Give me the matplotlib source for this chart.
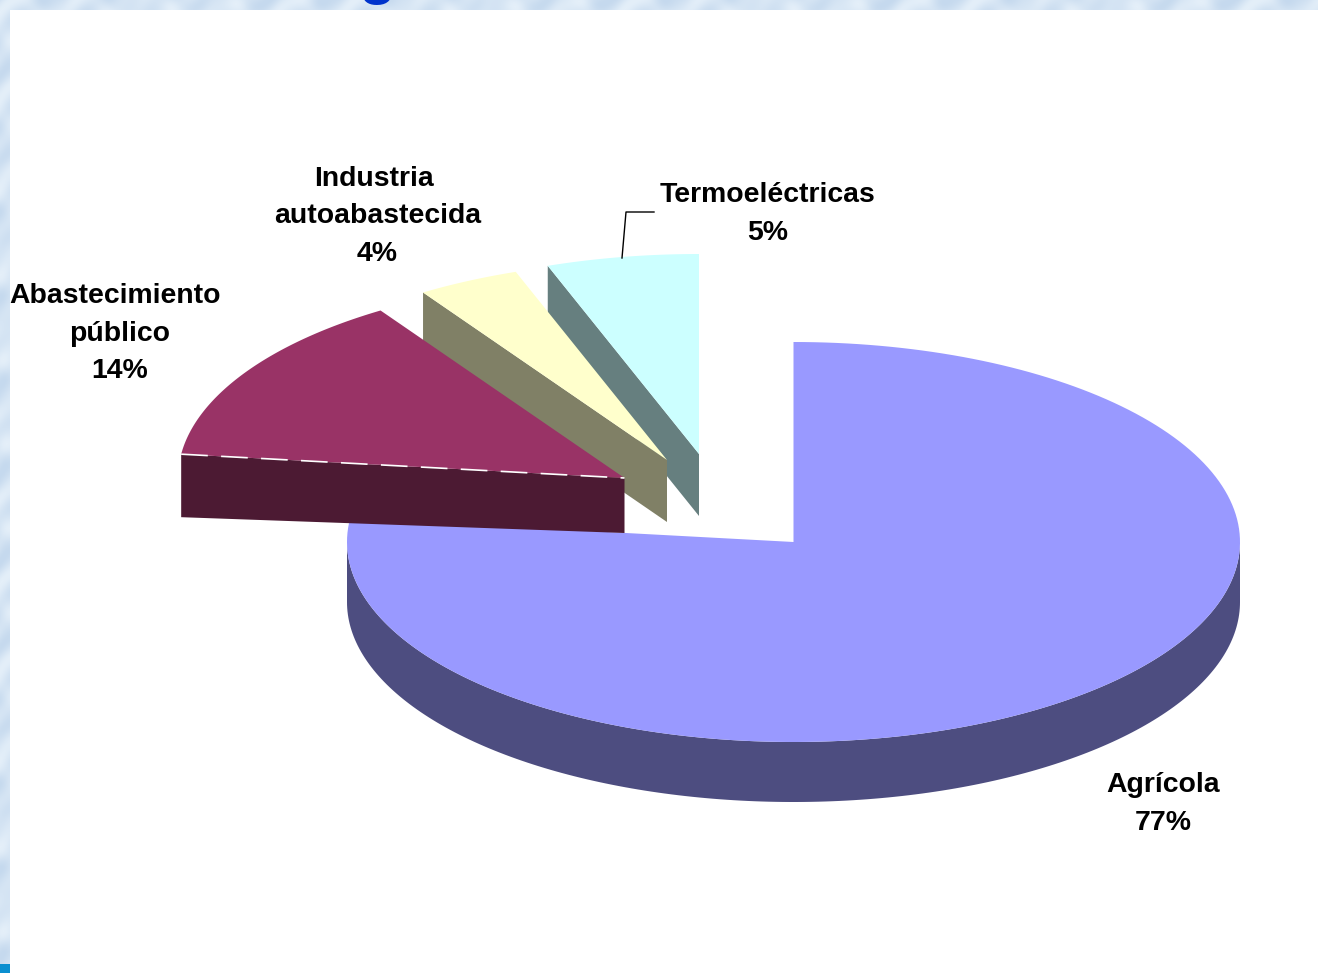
import matplotlib
matplotlib.use("Agg")
import matplotlib.pyplot as plt
import numpy as np

# Datos del grafico
categorias = ["Agrícola", "Abastecimiento público", "Industria autoabastecida", "Termoeléctricas"]
valores = [76.9, 13.9, 3.7, 5.5]

lineas = ["Agrícola", "77%",
          "Abastecimiento", "público", "14%",
          "Industria", "autoabastecida", "4%",
          "Termoeléctricas", "5%"]
lineas_x = [1163, 1163, 115.5, 120, 120, 374, 378, 377, 767, 768]
lineas_y = [785, 823, 296, 334, 371, 179, 216, 254, 195, 233]

colores = ["#9999ff", "#993366", "#ffffcc", "#ccffff"]
colores_lado = ["#4d4d80", "#4c1a33", "#808066", "#667f7f"]

# vertice de cada porcion (en pixeles de la figura) y alto del lado
centros = [(793.5, 542), (624.5, 478), (667, 460), (699, 454)]
alto_borde = [60, 63, 62, 62]
alto_centro = [60, 55, 62, 62]
a, b = 446.5, 200

fig = plt.figure(figsize=(13.18, 9.73), dpi=100)
ax = fig.add_axes([0, 0, 1, 1])
ax.set_xlim(0, 1318)
ax.set_ylim(973, 0)
ax.axis("off")

# fondo moteado de la diapositiva
yy, xx = np.mgrid[0:973, 0:1318]
fondo = 0.5 + 0.25 * np.sin(xx / 9.0 + np.sin(yy / 13.0) * 2) + 0.25 * np.sin(yy / 7.0 + np.sin(xx / 11.0) * 2)
ax.imshow(fondo, extent=(0, 1318, 973, 0), aspect="auto", zorder=0,
          cmap=matplotlib.colors.LinearSegmentedColormap.from_list("f", ["#c5d9ee", "#e4eff9"]))
ax.set_xlim(0, 1318)
ax.set_ylim(973, 0)

# trozo del titulo que queda tapado por el panel blanco
ax.text(377, -8, "g", color="#0033cc", fontsize=44, fontweight="bold", family="Liberation Sans",
        ha="center", va="baseline", zorder=1)
ax.fill_between([10, 1318], 10, 973, color="white", zorder=2, lw=0)
ax.fill_between([0, 10], 964, 973, color="#0a8fd0", zorder=2, lw=0)


def borde(cx, cy, t1, t2):
    t = np.radians(np.linspace(t1, t2, 200))
    return cx + a * np.cos(t), cy - b * np.sin(t)


# angulos: empieza arriba y va en sentido horario
angulos = 90 - np.cumsum([0] + valores) * 360 / sum(valores)
z = 3
for i in [0, 3, 2, 1]:
    cx, cy = centros[i]
    ini, fin = angulos[i], angulos[i + 1]
    if i == 0:
        # pared exterior de la porcion grande
        x, y = borde(cx, cy, -180, 0)
        ax.fill(np.r_[x, x[::-1]], np.r_[y, y[::-1] + alto_borde[i]], color=colores_lado[i], zorder=z, lw=0)
    else:
        # pared radial visible de las porciones separadas
        x0, y0 = borde(cx, cy, ini, ini)
        x0, y0 = x0[0], y0[0]
        ax.fill([x0, cx, cx, x0], [y0, cy, cy + alto_centro[i], y0 + alto_borde[i]],
                color=colores_lado[i], zorder=z, lw=0)
    x, y = borde(cx, cy, ini, fin)
    ax.fill(np.r_[cx, x], np.r_[cy, y], color=colores[i], zorder=z + 0.5, lw=0)
    if i == 1:
        x0, y0 = borde(cx, cy, ini, ini)
        ax.plot([x0[0], cx], [y0[0], cy], color="white", lw=1.2, dashes=(16, 8), zorder=z + 0.6)
    z += 1

# linea guia de Termoelectricas
ax.plot([654, 626, 622], [212, 212, 258], color="black", lw=1, zorder=10)

for txt, px, py in zip(lineas, lineas_x, lineas_y):
    ax.text(px, py, txt, fontsize=20.4, fontweight="bold", family="Liberation Sans", color="black",
            ha="center", va="center", zorder=11)

fig.savefig("out.png", dpi=100)
